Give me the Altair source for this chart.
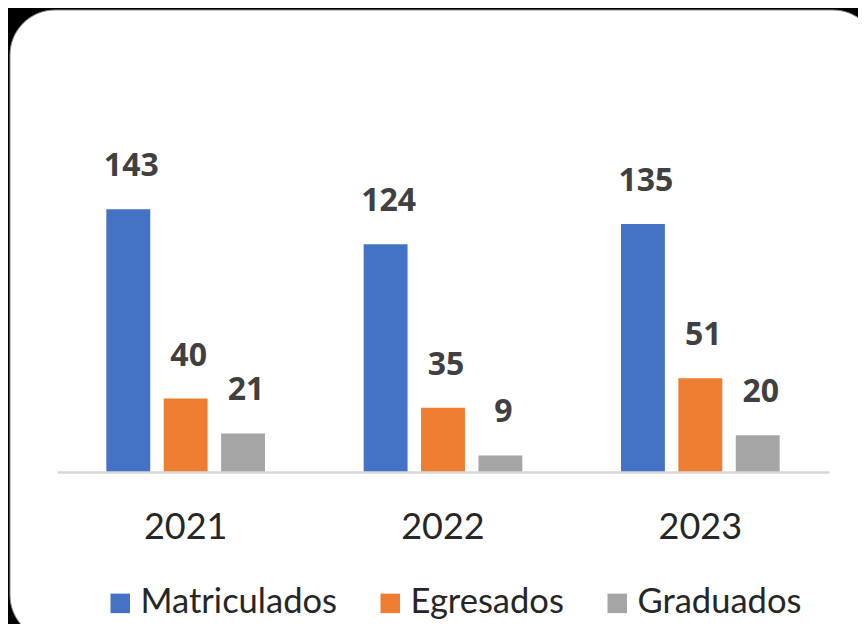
import altair as alt
import pandas as pd

years = ["2021", "2022", "2023"]
series = ["Matriculados", "Egresados", "Graduados"]
matriculados = [143, 124, 135]
egresados = [40, 35, 51]
graduados = [21, 9, 20]
colors = ["#4472C4", "#ED7D31", "#A5A5A5"]

rows = []
for i, y in enumerate(years):
    for s, vals in zip(series, [matriculados, egresados, graduados]):
        rows.append({"Año": y, "Serie": s, "Valor": vals[i]})
df = pd.DataFrame(rows)

bg_df = pd.DataFrame({"k": [0]})

W, H = 772, 294

bg = alt.Chart(bg_df).mark_rect(
    cornerRadius=45, fill="white", stroke="#8a8a8a", strokeWidth=1
).encode(
    x=alt.value(-47), x2=alt.value(821), y=alt.value(-168), y2=alt.value(462)
)

x_scale = alt.Scale(paddingInner=0.331, paddingOuter=0.1655)
off_scale = alt.Scale(paddingInner=0.235, paddingOuter=0.1175)

x_enc = alt.X(
    "Año:N",
    sort=years,
    scale=x_scale,
    axis=alt.Axis(
        title=None,
        labelAngle=0,
        ticks=False,
        tickSize=0,
        domainColor="#d9d9d9",
        domainWidth=2.5,
        labelFont="Lato",
        labelFontSize=36,
        labelColor="#262626",
        labelPadding=38,
        grid=False,
        zindex=2,
    ),
)
xoff = alt.XOffset("Serie:N", sort=series, scale=off_scale)
y_enc = alt.Y("Valor:Q", scale=alt.Scale(domain=[0, 160], nice=False), axis=None)

bars = alt.Chart(df).mark_bar().encode(
    x=x_enc,
    xOffset=xoff,
    y=y_enc,
    color=alt.Color(
        "Serie:N",
        sort=series,
        scale=alt.Scale(domain=series, range=colors),
        legend=alt.Legend(
            title=None,
            orient="none",
            direction="horizontal",
            legendX=46,
            legendY=408,
            symbolType="square",
            symbolSize=380,
            symbolStrokeWidth=0,
            labelFont="Lato",
            labelFontSize=34.5,
            labelColor="#262626",
            labelOffset=3,
            columnPadding=36,
            labelLimit=400,
            zindex=2,
        ),
    ),
)

text = alt.Chart(df).mark_text(
    font="Open Sans", fontSize=32, fontWeight="bold", color="#404040",
    baseline="alphabetic", dy=-33, dx=3
).encode(
    x=alt.X("Año:N", sort=years, scale=x_scale),
    xOffset=alt.XOffset("Serie:N", sort=series, scale=off_scale),
    y=alt.Y("Valor:Q"),
    text=alt.Text("Valor:Q"),
)

chart = alt.layer(bg, bars, text).properties(
    width=W,
    height=H,
    background="black",
    padding={"left": 49, "top": 170, "right": 29, "bottom": 152},
    autosize=alt.AutoSizeParams(type="none"),
).configure_view(stroke=None)

chart.save("out.html", embed_options={"renderer": "svg", "actions": False})
